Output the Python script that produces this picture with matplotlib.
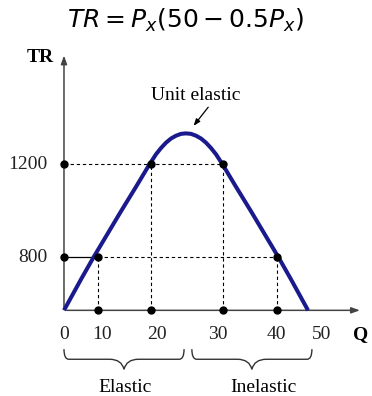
import matplotlib
matplotlib.use("Agg")
import matplotlib.pyplot as plt
from matplotlib.path import Path
from matplotlib.patches import PathPatch

plt.rcParams['mathtext.fontset'] = 'dejavusans'
serif = 'Liberation Serif'

# curve (schematic Q axis, TR values)
curve_q = [0, 3.48, 6.05, 8.61, 11.68, 14.75, 17.52, 18.85, 19.88, 20.9, 21.93, 22.95, 23.98, 25,
           26.02, 27.05, 28.07, 29.1, 30.12, 31.15, 32.48, 35.25, 38.32, 41.39, 43.95, 46.52, 50]
curve_tr = [572, 705, 800, 890, 998, 1103, 1200, 1243, 1270, 1293, 1311, 1323, 1331, 1333,
            1331, 1323, 1311, 1293, 1270, 1243, 1200, 1103, 998, 890, 800, 705, 572]

# marked points
mark_q = [6.9, 17.8, 32.6, 43.6]
mark_tr = [800, 1200, 1200, 800]
base_tr = 572
y_levels = [1200, 800]

# tick labels and their schematic positions
x_labels = ["0", "10", "20", "30", "40", "50"]
x_label_pos = [0, 7.7, 19.0, 31.6, 43.6, 52.8]

fig = plt.figure(figsize=(3.72, 3.96), dpi=100)
ax = fig.add_axes([0, 0, 1, 1])
ax.set_xlim(-13.11, 63.11)
ax.set_ylim(203.5, 1906.7)
ax.axis('off')

axis_col = '#444444'
# axes with arrows
ax.annotate('', xy=(0, 1680), xytext=(0, base_tr),
            arrowprops=dict(arrowstyle='-|>,head_width=0.18,head_length=0.5', color=axis_col, lw=1.1))
ax.annotate('', xy=(61.2, base_tr), xytext=(0, base_tr),
            arrowprops=dict(arrowstyle='-|>,head_width=0.18,head_length=0.5', color=axis_col, lw=1.1))

# guide lines
ax.plot([0, mark_q[0]], [800, 800], color='k', lw=0.9)
ax.plot([mark_q[0], mark_q[3]], [800, 800], color='k', lw=0.8, ls=(0, (3, 2.5)))
ax.plot([0, mark_q[2]], [1200, 1200], color='k', lw=0.8, ls=(0, (3, 2.5)))
for q, t in zip(mark_q, mark_tr):
    ax.plot([q, q], [base_tr, t], color='k', lw=0.8, ls=(0, (3, 2.5)))

# curve
ax.plot(curve_q, curve_tr, color='#1a1a8c', lw=2.9, solid_capstyle='butt', zorder=3)

# dots
ax.plot(mark_q, mark_tr, 'o', color='k', ms=5, zorder=4)
ax.plot(mark_q, [base_tr] * 4, 'o', color='k', ms=5, zorder=4)
ax.plot([0, 0], y_levels, 'o', color='k', ms=5, zorder=4)

# labels
for lab, q in zip(x_labels, x_label_pos):
    ax.text(q, 466, lab, ha='center', va='center', fontsize=14, family=serif, color='#222222')
ax.text(60.7, 466, 'Q', ha='center', va='center', fontsize=14, family=serif, fontweight='bold')
for v in y_levels:
    ax.text(-3.4, v, str(v), ha='right', va='center', fontsize=14, family=serif, color='#222222')
ax.text(-4.9, 1661, 'TR', ha='center', va='center', fontsize=14, family=serif, fontweight='bold')

ax.text(27.0, 1498, 'Unit elastic', ha='center', va='center', fontsize=14, family=serif)
ax.annotate('', xy=(26.2, 1356), xytext=(29.9, 1455),
            arrowprops=dict(arrowstyle='-|>,head_width=0.15,head_length=0.4', color='k', lw=0.9))

fig.text(0.5, 0.948, r'$TR = P_x(50 - 0.5P_x)$', ha='center', va='center', fontsize=18)


def brace(x0, x1, ytop, ytip):
    xm = (x0 + x1) / 2
    ymid = (ytop + ytip) / 2
    w = x1 - x0
    verts = [(x0, ytop), (x0, ymid), (x0 + 0.04 * w, ymid), (x0 + 0.12 * w, ymid),
             (xm - 0.12 * w, ymid), (xm - 0.02 * w, ymid), (xm, ytip),
             (xm + 0.02 * w, ymid), (xm + 0.12 * w, ymid), (x1 - 0.12 * w, ymid),
             (x1 - 0.04 * w, ymid), (x1, ymid), (x1, ytop)]
    codes = [Path.MOVETO, Path.CURVE3, Path.CURVE3, Path.LINETO,
             Path.LINETO, Path.CURVE3, Path.CURVE3,
             Path.CURVE3, Path.CURVE3, Path.LINETO,
             Path.LINETO, Path.CURVE3, Path.CURVE3]
    ax.add_patch(PathPatch(Path(verts, codes), fill=False, lw=1.0, color='#333333'))


brace(0, 24.6, 405, 318)
brace(26.2, 50.8, 405, 318)
ax.text(12.5, 238, 'Elastic', ha='center', va='center', fontsize=14, family=serif)
ax.text(40.8, 238, 'Inelastic', ha='center', va='center', fontsize=14, family=serif)

fig.savefig('out.png', dpi=100)
